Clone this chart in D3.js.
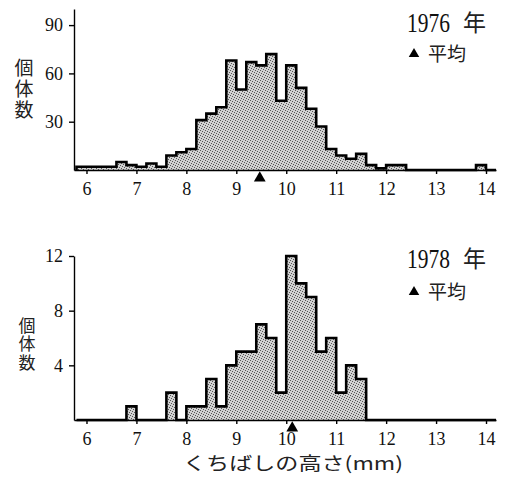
<!DOCTYPE html>
<html>
<head>
<meta charset="utf-8">
<script src="https://cdn.jsdelivr.net/npm/d3@7"></script>
<style>
  body { margin: 0; background: #fff; }
  .axis path, .axis line { stroke: #000; stroke-width: 1.4px; }
  .axis text { font-family: 'Liberation Serif', serif !important; font-size: 18px !important; fill: #111; }
  .hist { stroke: #000; stroke-width: 2.6px; stroke-linejoin: miter; }
  .jp { font-family: "Noto Sans CJK JP", sans-serif; fill: #222; }
  .num { font-family: "Liberation Serif", serif; fill: #111; }
</style>
</head>
<body>
<svg width="506" height="482"></svg>
<script>
// bin lower edges (mm), bins are 0.2 mm wide
var binStarts = [5.8, 6.0, 6.2, 6.4, 6.6, 6.8, 7.0, 7.2, 7.4, 7.6, 7.8, 8.0, 8.2, 8.4,
  8.6, 8.8, 9.0, 9.2, 9.4, 9.6, 9.8, 10.0, 10.2, 10.4, 10.6, 10.8, 11.0, 11.2, 11.4,
  11.6, 11.8, 12.0, 12.2, 12.4, 12.6, 12.8, 13.0, 13.2, 13.4, 13.6, 13.8, 14.0];
var binWidth = 0.2;

var counts1976 = [2, 2, 2, 2, 5, 3, 2, 4, 2, 9, 11, 13, 31, 35,
  39, 68, 50, 67, 65, 72, 43, 65, 51, 38, 27, 13, 9, 7, 10,
  3, 1, 3, 3, 0, 0, 0, 0, 0, 0, 0, 3, 0];

var counts1978 = [0, 0, 0, 0, 0, 1, 0, 0, 0, 2, 0, 1, 1, 3,
  1, 4, 5, 5, 7, 6, 2, 12, 10, 9, 5, 6, 2, 4, 3,
  0, 0, 0, 0, 0, 0, 0, 0, 0, 0, 0, 0, 0];

var xTicks = [6, 7, 8, 9, 10, 11, 12, 13, 14];
var yTicks1976 = [30, 60, 90];
var yTicks1978 = [4, 8, 12];
var mean1976 = 9.47;
var mean1978 = 10.12;

var svg = d3.select("svg");

// stipple fill
var pat = svg.append("defs").append("pattern")
  .attr("id", "dots").attr("patternUnits", "userSpaceOnUse")
  .attr("width", 5).attr("height", 5);
pat.append("rect").attr("width", 5).attr("height", 5).attr("fill", "#d2d2d2");
[[0, 0], [2, 1], [4, 2], [1, 3], [3, 4]].forEach(function(p) {
  pat.append("rect").attr("x", p[0]).attr("y", p[1])
    .attr("width", 1).attr("height", 1).attr("fill", "#555");
});

var x = d3.scaleLinear().domain([5.75, 14.2]).range([74, 496]);

function serif(sel) {
  sel.attr("font-family", null).attr("font-size", null);
  sel.selectAll("text")
    .style("font-family", "'Liberation Serif', serif")
    .style("font-size", "18px");
}

function panel(counts, yDomain, yRange, yTicks, year, mean, lab) {
  var y = d3.scaleLinear().domain(yDomain).range(yRange);
  var g = svg.append("g");

  var pts = [[binStarts[0], 0]];
  binStarts.forEach(function(b, i) { pts.push([b, counts[i]]); });
  var last = binStarts[binStarts.length - 1] + binWidth;
  pts.push([last, counts[counts.length - 1]]);
  pts.push([last, 0]);

  var area = d3.area().curve(d3.curveStepAfter)
    .x(function(d) { return x(d[0]); })
    .y0(y(0)).y1(function(d) { return y(d[1]); });
  var line = d3.line().curve(d3.curveStepAfter)
    .x(function(d) { return x(d[0]); })
    .y(function(d) { return y(d[1]); });

  g.append("path").attr("d", area(pts)).attr("fill", "url(#dots)");
  g.append("path").attr("class", "hist").attr("d", line(pts)).attr("fill", "none");

  g.append("g").attr("class", "axis")
    .attr("transform", "translate(0," + y(0) + ")")
    .call(d3.axisBottom(x).tickValues(xTicks).tickSize(4).tickSizeOuter(0).tickPadding(8))
    .call(serif);

  g.append("g").attr("class", "axis")
    .attr("transform", "translate(" + x(5.75) + ",0)")
    .call(d3.axisLeft(y).tickValues(yTicks).tickSize(5).tickSizeOuter(0).tickPadding(6))
    .call(serif);

  // mean marker
  g.append("path")
    .attr("d", d3.symbol().type(d3.symbolTriangle).size(60))
    .attr("transform", "translate(" + x(mean) + "," + (y(0) + 8) + ")")
    .attr("fill", "#000");

  // year label
  g.append("text").attr("class", "num")
    .attr("x", 407).attr("y", lab.yearY)
    .attr("font-size", 27).attr("textLength", 43).attr("lengthAdjust", "spacingAndGlyphs")
    .text(year);
  g.append("text").attr("class", "jp")
    .attr("x", 463).attr("y", lab.yearY - 1).attr("font-size", 23)
    .text("年");

  // legend
  g.append("path")
    .attr("d", d3.symbol().type(d3.symbolTriangle).size(48))
    .attr("transform", "translate(414," + lab.legY + ")")
    .attr("fill", "#000");
  g.append("text").attr("class", "jp")
    .attr("x", 428).attr("y", lab.legY).attr("dy", "0.35em").attr("font-size", 19)
    .text("平均");

  // vertical y title
  g.append("text").attr("class", "jp")
    .attr("x", lab.titleX).attr("y", lab.titleY)
    .attr("font-size", lab.titleSize)
    .style("writing-mode", "vertical-rl")
    .style("letter-spacing", lab.titleGap + "px")
    .text("個体数");
}

panel(counts1976, [0, 100], [170, 9], yTicks1976, "1976", mean1976,
  { yearY: 32, legY: 54, titleX: 24, titleY: 58, titleSize: 19, titleGap: 2 });
panel(counts1978, [0, 12], [420, 256], yTicks1978, "1978", mean1978,
  { yearY: 268, legY: 292, titleX: 27, titleY: 317, titleSize: 17, titleGap: 1.5 });

svg.append("text").attr("class", "jp")
  .attr("x", 183).attr("y", 464).attr("dy", "0.35em")
  .attr("font-size", 18).attr("textLength", 220).attr("lengthAdjust", "spacingAndGlyphs")
  .text("くちばしの高さ(mm)");
</script>
</body>
</html>
